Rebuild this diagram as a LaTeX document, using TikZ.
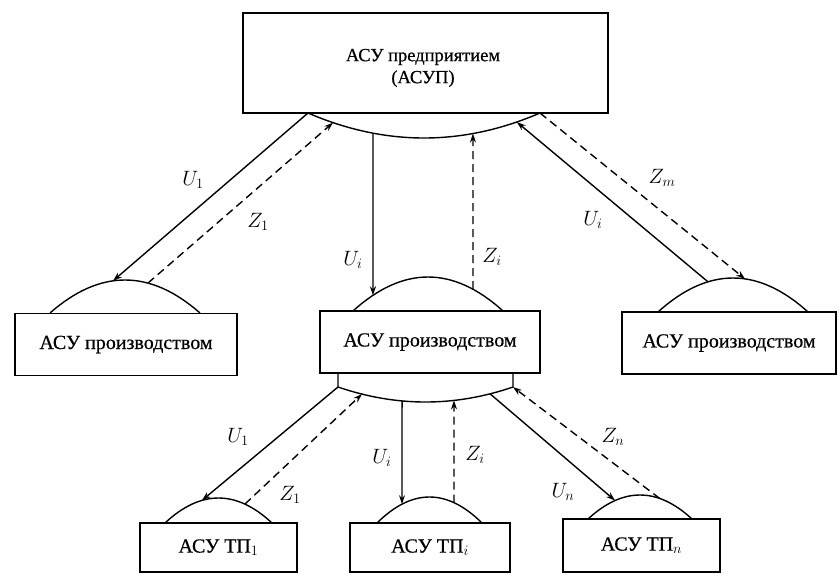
\documentclass[tikz,border=0pt]{standalone}
\usepackage{fontspec}
\setmainfont{Liberation Serif}[FakeBold=0.6]
\usetikzlibrary{calc,positioning,arrows,arrows.meta}

\begin{document}
\begin{tikzpicture}[x=1pt,y=-1pt,line width=1.4pt,>={Stealth[length=9pt,width=6pt]}]
\tikzstyle{box} = [draw, rectangle, minimum height=62pt, inner sep=2pt, align=center, font=\fontsize{20}{22}\selectfont];
\tikzstyle{zline} = [dash pattern=on 8pt off 5pt];
\tikzstyle{lbl} = [font=\fontsize{21}{24}\selectfont];
\useasboundingbox (0,0) rectangle (838,574);
% boxes
\node[box, minimum width=365pt, minimum height=100pt] (P) at (425.5,63) {};
\node (Ptext) at (423,68) [font=\fontsize{18.5}{22}\selectfont, align=center] {АСУ предприятием\\(АСУП)};
\node[box, minimum width=222pt] (A1) at (126,344.5) {АСУ производством};
\node[box, minimum width=220pt] (Ai) at (430,342) {АСУ производством};
\node[box, minimum width=214pt] (Am) at (729,343) {АСУ производством};
\node[box, minimum width=157pt, minimum height=49pt] (T1) at (218.5,547.5) {АСУ ТП$_1$};
\node[box, minimum width=160pt, minimum height=49pt] (Ti) at (430,547.5) {АСУ ТП$_i$};
\node[box, minimum width=157pt, minimum height=53pt] (Tn) at (641.5,545.5) {АСУ ТП$_n$};
% arcs
\draw (308,113) .. controls (385.33,146.33) and (462.67,146.33) .. (540,113)
  coordinate[pos=0] (pL) coordinate[pos=0.108] (pZ1) coordinate[pos=0.28] (pUi)
  coordinate[pos=0.711] (pZi) coordinate[pos=0.90] (pUm) coordinate[pos=1] (pR);
\draw (50,313) .. controls (100,269) and (150,269) .. (200,313)
  coordinate[pos=0.42] (aU) coordinate[pos=0.653] (aZ);
\draw (353,311) .. controls (403,265.67) and (453,265.67) .. (503,311)
  coordinate[pos=0.133] (iU) coordinate[pos=0.8] (iZ);
\draw (658,312) .. controls (708,266.67) and (758,266.67) .. (808,312)
  coordinate[pos=0.333] (mU) coordinate[pos=0.58] (mZ);
\draw (338,373) -- (338,387) .. controls (396.33,407) and (454.67,407) .. (513,387)
  coordinate[pos=0] (dU1) coordinate[pos=0.137] (dZ1) coordinate[pos=0.366] (dUi)
  coordinate[pos=0.663] (dZi) coordinate[pos=0.869] (dUn) coordinate[pos=1] (dZn)
  -- (513,373);
\draw (165,523) .. controls (200.67,489.67) and (236.33,489.67) .. (272,523)
  coordinate[pos=0.345] (t1U) coordinate[pos=0.747] (t1Z);
\draw (377,523) .. controls (412,488.33) and (447,488.33) .. (482,523)
  coordinate[pos=0.238] (tiU) coordinate[pos=0.733] (tiZ);
\draw (588,519) .. controls (622.67,487) and (657.33,487) .. (692,519)
  coordinate[pos=0.26] (tnU) coordinate[pos=0.69] (tnZ);
% upper level
\draw[->] (pL) -- (aU);
\draw[->, zline] (aZ) -- (pZ1);
\draw[->] (pUi) -- (iU);
\draw[->, zline] (iZ) -- (pZi);
\draw[->] (mU) -- (pUm);
\draw[->, zline] (pR) -- (mZ);
% lower level
\draw[->] (dU1) -- (t1U);
\draw[->, zline] (t1Z) -- (dZ1);
\draw[->] (dUi) -- (tiU);
\draw[->, zline] (tiZ) -- (dZi);
\draw[->] (dUn) -- (tnU);
\draw[->, zline] (tnZ) -- (dZn);
% labels
\node[lbl] (lU1) at (193,180) {$U_1$};
\node[lbl] (lZ1) at (258,222) {$Z_1$};
\node[lbl] (lUi) at (353,260) {$U_i$};
\node[lbl] (lZi) at (492,257) {$Z_i$};
\node[lbl] (lUm) at (593,220) {$U_i$};
\node[lbl] (lZm) at (662,178) {$Z_m$};
\node[lbl] (lU1b) at (238,437) {$U_1$};
\node[lbl] (lZ1b) at (290,495) {$Z_1$};
\node[lbl] (lUib) at (382,458) {$U_i$};
\node[lbl] (lZib) at (475,455) {$Z_i$};
\node[lbl] (lUn) at (563,492) {$U_n$};
\node[lbl] (lZn) at (613,437) {$Z_n$};
\end{tikzpicture}
\end{document}
